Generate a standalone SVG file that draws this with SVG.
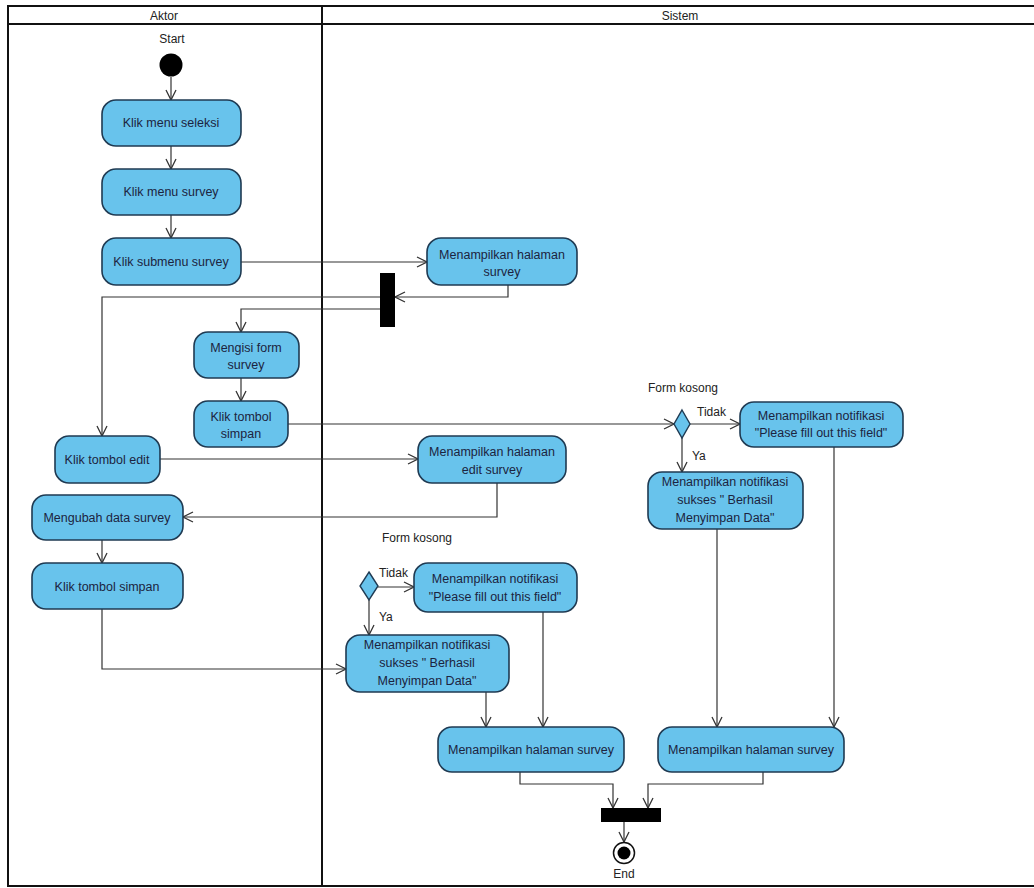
<svg xmlns="http://www.w3.org/2000/svg" width="1034" height="888" viewBox="0 0 1034 888">
<defs>
<style>
.lane{fill:none;stroke:#111;stroke-width:2}
.act{fill:#68c3ec;stroke:#1f3a52;stroke-width:1.6}
.t{font-family:"Liberation Sans",Arial,sans-serif;font-size:12.5px;fill:#1c2440;text-anchor:middle}
.lbl{font-family:"Liberation Sans",Arial,sans-serif;font-size:12px;fill:#222}
.hdr{font-family:"Liberation Sans",Arial,sans-serif;font-size:12px;fill:#222;text-anchor:middle}
.c{fill:none;stroke:#333;stroke-width:1.2}
</style>
<marker id="arr" markerWidth="12" markerHeight="12" refX="11" refY="6" orient="auto" markerUnits="userSpaceOnUse">
<path d="M1,1 L11,6 L1,11" fill="none" stroke="#333" stroke-width="1.3"/>
</marker>
</defs>
<rect width="1034" height="888" fill="#fff"/>
<g id="swimlanes">
<rect class="lane" x="8" y="6" width="1040" height="880"/>
<line class="lane" x1="8" y1="24" x2="1048" y2="24"/>
<line class="lane" x1="322" y1="6" x2="322" y2="886"/>
<text class="hdr" x="164" y="20">Aktor</text>
<text class="hdr" x="680" y="20">Sistem</text>
</g>
<g id="connectors">
<path class="c" d="M171,77 L171,100" marker-end="url(#arr)"/>
<path class="c" d="M171,146 L171,169" marker-end="url(#arr)"/>
<path class="c" d="M171,215 L171,238" marker-end="url(#arr)"/>
<path class="c" d="M241,262 L427,262" marker-end="url(#arr)"/>
<path class="c" d="M508,285 L508,297 L395,297" marker-end="url(#arr)"/>
<path class="c" d="M380,297 L102,297 L102,436" marker-end="url(#arr)"/>
<path class="c" d="M380,309 L241,309 L241,332" marker-end="url(#arr)"/>
<path class="c" d="M241,378 L241,401" marker-end="url(#arr)"/>
<path class="c" d="M288,424 L674,424" marker-end="url(#arr)"/>
<path class="c" d="M690,424 L740,424" marker-end="url(#arr)"/>
<path class="c" d="M682,438 L682,472" marker-end="url(#arr)"/>
<path class="c" d="M160,459 L418,459" marker-end="url(#arr)"/>
<path class="c" d="M497,483 L497,517 L183,517" marker-end="url(#arr)"/>
<path class="c" d="M102,540 L102,563" marker-end="url(#arr)"/>
<path class="c" d="M102,609 L102,669 L346,669" marker-end="url(#arr)"/>
<path class="c" d="M378,587 L414,587" marker-end="url(#arr)"/>
<path class="c" d="M369,600 L369,635" marker-end="url(#arr)"/>
<path class="c" d="M486,692 L486,727" marker-end="url(#arr)"/>
<path class="c" d="M543,612 L543,727" marker-end="url(#arr)"/>
<path class="c" d="M717,529 L717,727" marker-end="url(#arr)"/>
<path class="c" d="M834,447 L834,727" marker-end="url(#arr)"/>
<path class="c" d="M520,772 L520,784 L613,784 L613,808" marker-end="url(#arr)"/>
<path class="c" d="M763,772 L763,784 L648,784 L648,808" marker-end="url(#arr)"/>
<path class="c" d="M624,822 L624,842" marker-end="url(#arr)"/>
<text class="lbl" x="697" y="416">Tidak</text>
<text class="lbl" x="692" y="460">Ya</text>
<text class="lbl" x="379" y="577">Tidak</text>
<text class="lbl" x="379" y="621">Ya</text>
</g>
<g id="start">
<text class="hdr" x="172" y="43">Start</text>
<circle cx="171" cy="65" r="11.5" fill="#000"/>
</g>
<g id="klik-menu-seleksi">
<rect class="act" x="102" y="100" width="139" height="46" rx="14"/>
<text class="t" x="171" y="127">Klik menu seleksi</text>
</g>
<g id="klik-menu-survey">
<rect class="act" x="102" y="169" width="139" height="46" rx="14"/>
<text class="t" x="171" y="196">Klik menu survey</text>
</g>
<g id="klik-submenu-survey">
<rect class="act" x="102" y="238" width="139" height="47" rx="14"/>
<text class="t" x="171" y="266">Klik submenu survey</text>
</g>
<g id="tampil-halaman-survey">
<rect class="act" x="427" y="238" width="150" height="47" rx="14"/>
<text class="t" x="502" y="259">Menampilkan halaman</text>
<text class="t" x="502" y="276">survey</text>
</g>
<g id="fork">
<rect x="380" y="273" width="15" height="54" fill="#000"/>
</g>
<g id="mengisi-form">
<rect class="act" x="194" y="332" width="105" height="46" rx="14"/>
<text class="t" x="246" y="352">Mengisi form</text>
<text class="t" x="246" y="369">survey</text>
</g>
<g id="klik-tombol-simpan-1">
<rect class="act" x="194" y="401" width="94" height="46" rx="14"/>
<text class="t" x="241" y="421">Klik tombol</text>
<text class="t" x="241" y="438">simpan</text>
</g>
<g id="decision-1">
<path d="M682,410 L690,424 L682,438 L674,424 Z" fill="#68c3ec" stroke="#1f3a52" stroke-width="1.4"/>
<text class="lbl" x="648" y="392">Form kosong</text>
</g>
<g id="notif-fill-1">
<rect class="act" x="740" y="402" width="163" height="45" rx="14"/>
<text class="t" x="821" y="420">Menampilkan notifikasi</text>
<text class="t" x="821" y="437">"Please fill out this field"</text>
</g>
<g id="notif-sukses-1">
<rect class="act" x="648" y="472" width="155" height="57" rx="14"/>
<text class="t" x="725" y="486">Menampilkan notifikasi</text>
<text class="t" x="725" y="504">sukses " Berhasil</text>
<text class="t" x="725" y="522">Menyimpan Data"</text>
</g>
<g id="klik-tombol-edit">
<rect class="act" x="55" y="436" width="105" height="47" rx="14"/>
<text class="t" x="107" y="464">Klik tombol edit</text>
</g>
<g id="tampil-edit-survey">
<rect class="act" x="418" y="436" width="148" height="47" rx="14"/>
<text class="t" x="492" y="456">Menampilkan halaman</text>
<text class="t" x="492" y="474">edit survey</text>
</g>
<g id="mengubah-data">
<rect class="act" x="32" y="495" width="151" height="45" rx="14"/>
<text class="t" x="107" y="522">Mengubah data survey</text>
</g>
<g id="klik-tombol-simpan-2">
<rect class="act" x="32" y="563" width="151" height="46" rx="14"/>
<text class="t" x="107" y="591">Klik tombol simpan</text>
</g>
<g id="decision-2">
<path d="M369,572 L378,586 L369,600 L360,586 Z" fill="#68c3ec" stroke="#1f3a52" stroke-width="1.4"/>
<text class="lbl" x="382" y="542">Form kosong</text>
</g>
<g id="notif-fill-2">
<rect class="act" x="414" y="563" width="163" height="49" rx="14"/>
<text class="t" x="495" y="583">Menampilkan notifikasi</text>
<text class="t" x="495" y="601">"Please fill out this field"</text>
</g>
<g id="notif-sukses-2">
<rect class="act" x="346" y="635" width="163" height="57" rx="14"/>
<text class="t" x="427" y="649">Menampilkan notifikasi</text>
<text class="t" x="427" y="667">sukses " Berhasil</text>
<text class="t" x="427" y="685">Menyimpan Data"</text>
</g>
<g id="tampil-survey-1">
<rect class="act" x="438" y="727" width="186" height="45" rx="14"/>
<text class="t" x="531" y="754">Menampilkan halaman survey</text>
</g>
<g id="tampil-survey-2">
<rect class="act" x="658" y="727" width="186" height="45" rx="14"/>
<text class="t" x="751" y="754">Menampilkan halaman survey</text>
</g>
<g id="join">
<rect x="601" y="808" width="60" height="14" fill="#000"/>
</g>
<g id="end">
<circle cx="624" cy="853" r="10.5" fill="#fff" stroke="#111" stroke-width="1.5"/>
<circle cx="624" cy="853" r="6.5" fill="#000"/>
<text class="hdr" x="624" y="878">End</text>
</g>
</svg>
